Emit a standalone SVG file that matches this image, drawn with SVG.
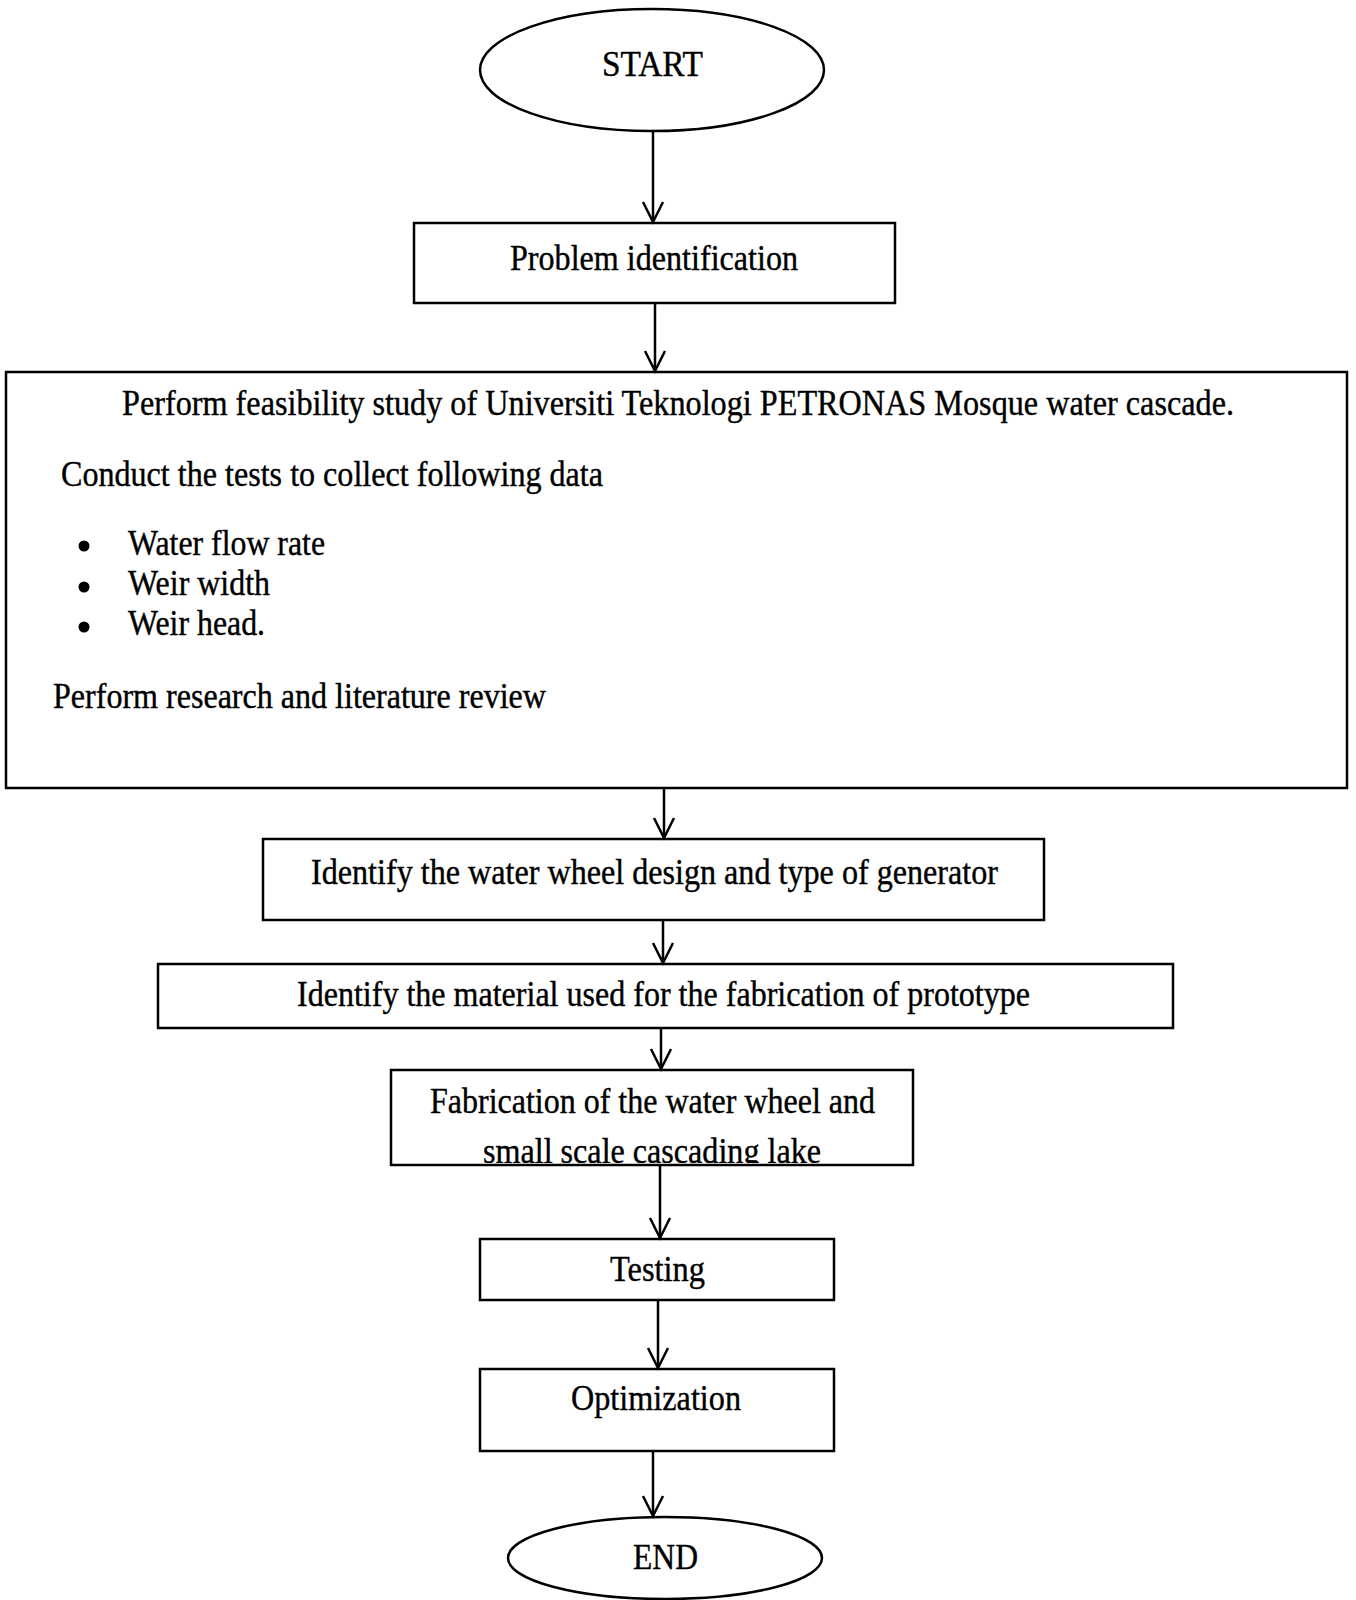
<svg xmlns="http://www.w3.org/2000/svg" width="1356" height="1600" viewBox="0 0 1356 1600">
<style>
.shape{fill:#fff;stroke:#000;stroke-width:2.5}
.t{font-family:"Liberation Serif","Times New Roman",serif;font-size:36px;fill:#000;stroke:#000;stroke-width:0.4}
.conn line{stroke:#000;stroke-width:2.5}
</style>
<defs>
<marker id="arr" viewBox="-22 -12 24 24" refX="0" refY="0" markerWidth="24" markerHeight="24" markerUnits="userSpaceOnUse" orient="auto" overflow="visible">
<path d="M-20,-10 L0,0 L-20,10" fill="none" stroke="#000" stroke-width="2.5"/>
</marker>
<clipPath id="fabclip"><rect x="392" y="1071" width="520" height="92"/></clipPath>
</defs>
<rect width="1356" height="1600" fill="#fff"/>

<g id="start">
<ellipse class="shape" cx="652" cy="70" rx="172" ry="61"/>
<text class="t" x="602" y="76" font-size="40" textLength="101" lengthAdjust="spacingAndGlyphs">START</text>
</g>

<g id="problem">
<rect class="shape" x="414" y="223" width="481" height="80"/>
<text class="t" x="510" y="270" textLength="288" lengthAdjust="spacingAndGlyphs">Problem identification</text>
</g>

<g id="feasibility">
<rect class="shape" x="6" y="372" width="1341" height="416"/>
<text class="t" x="122" y="415" textLength="1112" lengthAdjust="spacingAndGlyphs">Perform feasibility study of Universiti Teknologi PETRONAS Mosque water cascade.</text>
<text class="t" x="61" y="486" textLength="542" lengthAdjust="spacingAndGlyphs">Conduct the tests to collect following data</text>
<circle cx="84" cy="546" r="5.5" fill="#000"/>
<circle cx="84" cy="587" r="5.5" fill="#000"/>
<circle cx="84" cy="627" r="5.5" fill="#000"/>
<text class="t" x="128" y="555" textLength="197" lengthAdjust="spacingAndGlyphs">Water flow rate</text>
<text class="t" x="128" y="595" textLength="142" lengthAdjust="spacingAndGlyphs">Weir width</text>
<text class="t" x="128" y="635" textLength="137" lengthAdjust="spacingAndGlyphs">Weir head.</text>
<text class="t" x="53" y="708" textLength="493" lengthAdjust="spacingAndGlyphs">Perform research and literature review</text>
</g>

<g id="design">
<rect class="shape" x="263" y="839" width="781" height="81"/>
<text class="t" x="311" y="884" textLength="687" lengthAdjust="spacingAndGlyphs">Identify the water wheel design and type of generator</text>
</g>

<g id="material">
<rect class="shape" x="158" y="964" width="1015" height="64"/>
<text class="t" x="297" y="1006" textLength="733" lengthAdjust="spacingAndGlyphs">Identify the material used for the fabrication of prototype</text>
</g>

<g id="fabrication">
<rect class="shape" x="391" y="1070" width="522" height="95"/>
<text class="t" x="430" y="1113" textLength="445" lengthAdjust="spacingAndGlyphs">Fabrication of the water wheel and</text>
<text class="t" x="483" y="1163" textLength="338" lengthAdjust="spacingAndGlyphs" clip-path="url(#fabclip)">small scale cascading lake</text>
</g>

<g id="testing">
<rect class="shape" x="480" y="1239" width="354" height="61"/>
<text class="t" x="610" y="1281" textLength="95" lengthAdjust="spacingAndGlyphs">Testing</text>
</g>

<g id="optimization">
<rect class="shape" x="480" y="1369" width="354" height="82"/>
<text class="t" x="571" y="1410" textLength="170" lengthAdjust="spacingAndGlyphs">Optimization</text>
</g>

<g id="end">
<ellipse class="shape" cx="665" cy="1558" rx="157" ry="41"/>
<text class="t" x="633" y="1569" textLength="65" lengthAdjust="spacingAndGlyphs">END</text>
</g>

<g id="connectors" class="conn">
<line x1="653" y1="131" x2="653" y2="222" marker-end="url(#arr)"/>
<line x1="655" y1="303" x2="655" y2="371" marker-end="url(#arr)"/>
<line x1="664" y1="788" x2="664" y2="838" marker-end="url(#arr)"/>
<line x1="663" y1="920" x2="663" y2="963" marker-end="url(#arr)"/>
<line x1="661" y1="1028" x2="661" y2="1069" marker-end="url(#arr)"/>
<line x1="660" y1="1165" x2="660" y2="1238" marker-end="url(#arr)"/>
<line x1="658" y1="1300" x2="658" y2="1368" marker-end="url(#arr)"/>
<line x1="653" y1="1451" x2="653" y2="1516" marker-end="url(#arr)"/>
</g>
</svg>
